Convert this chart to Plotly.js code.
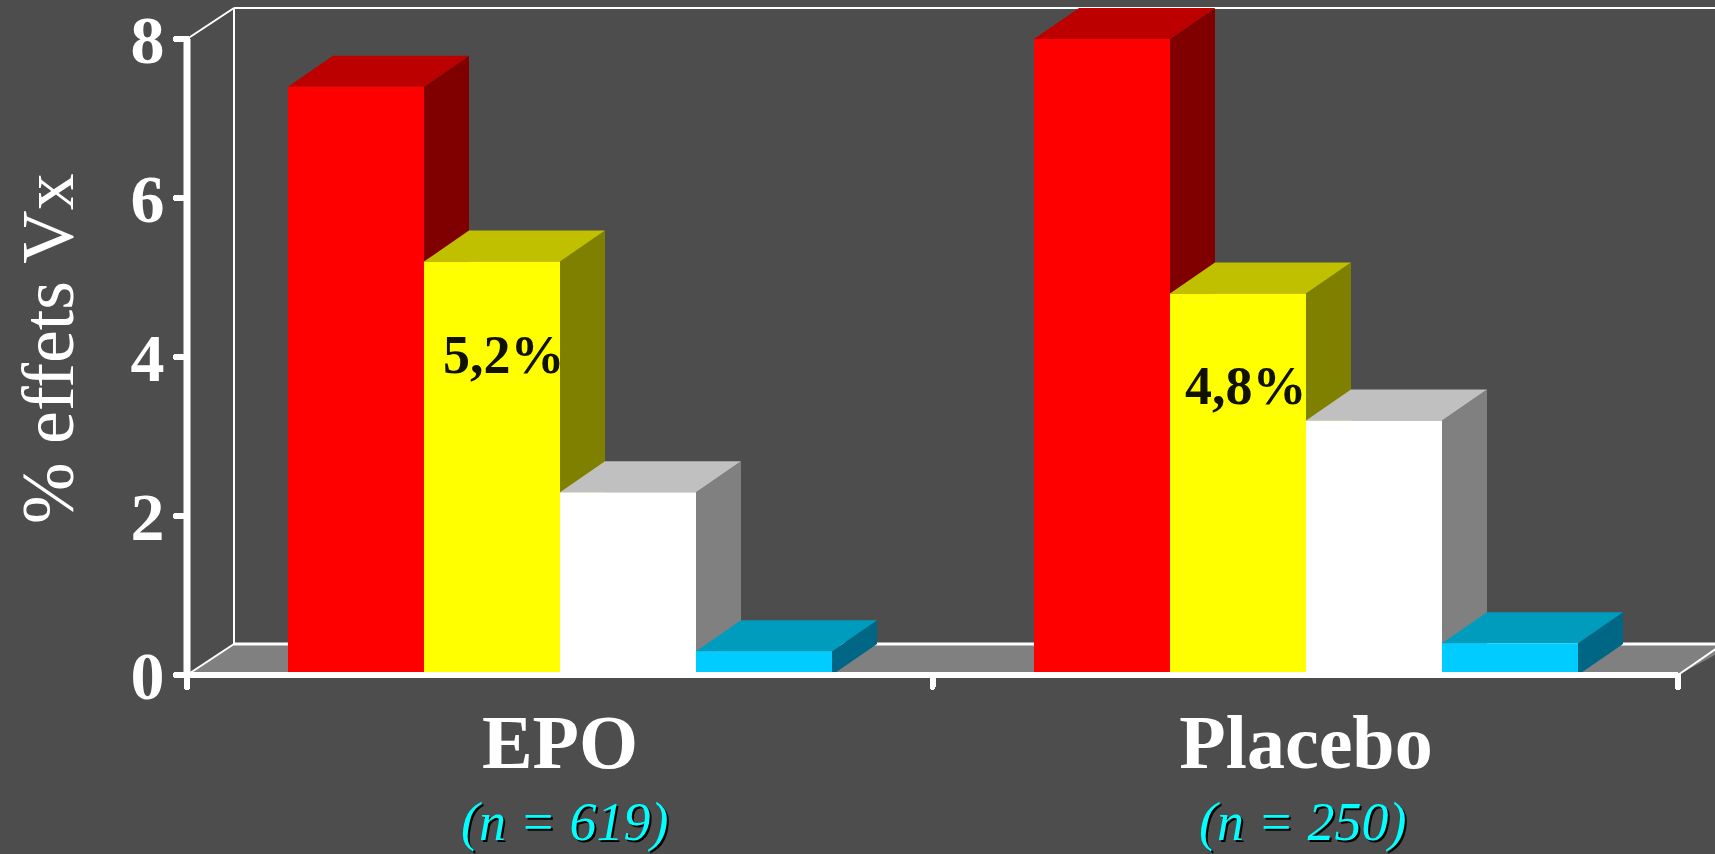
<!DOCTYPE html>
<html>
<head>
<meta charset="utf-8">
<script src="https://cdn.plot.ly/plotly-3.0.1.min.js"></script>
<style>
  html, body { margin: 0; padding: 0; background: #4d4d4d; overflow: hidden; }
  #chart { width: 1715px; height: 854px; }
  path.ticks { stroke-linecap: round; }
</style>
</head>
<body>
<div id="chart"></div>
<script>
// Adverse-effect rates per treatment arm, drawn as oblique 3D columns.
const groups = ['EPO', 'Placebo'];
const groupSizes = ['(n = 619)', '(n = 250)'];
const seriesRed = [7.4, 8.0];
const seriesYellow = [5.2, 4.8];
const seriesWhite = [2.3, 3.2];
const seriesBlue = [0.3, 0.4];
const yTicks = [0, 2, 4, 6, 8];
const yTitle = '% effets Vx';

// Axis scales: x runs in page-width units, y so that 0 and 8 fall on the axis ends.
const W = 1715, H = 854;
const Y_ZERO_PX = 675, Y_UNIT_PX = 79.5;
const Y_PAGE_BOTTOM = -(H - Y_ZERO_PX) / Y_UNIT_PX;
const X_AXIS_START = 187, X_AXIS_END = 1678;
const GROUP_CENTERS = [560, 1306];
const SIZE_LABEL_NUDGE = [4, -4];
const VALUE_LABEL_NUDGE = [12, 8];
const BAR_W = 136;
const DEPTH_X = 45, DEPTH_Y = 0.39;
const WALL_X = X_AXIS_START + 47;

const palettes = [
  { values: seriesRed,    name: 'Rouge', front: '#ff0000', top: '#bc0000', side: '#800000' },
  { values: seriesYellow, name: 'Jaune', front: '#ffff00', top: '#c0c000', side: '#808000' },
  { values: seriesWhite,  name: 'Blanc', front: '#ffffff', top: '#c0c0c0', side: '#808080' },
  { values: seriesBlue,   name: 'Bleu',  front: '#00ccff', top: '#009cbe', side: '#006685' }
];

const poly = (pts, fill) => ({
  type: 'path', xref: 'x', yref: 'y', layer: 'below',
  path: 'M' + pts.map(p => p[0] + ',' + p[1]).join(' L') + ' Z',
  fillcolor: fill, line: { width: 0 }
});
const seg = (x0, y0, x1, y1, width, layer) => ({
  type: 'line', xref: 'x', yref: 'y', layer: layer || 'below',
  x0, y0, x1, y1, line: { color: '#ffffff', width }
});

// Floor and back wall
const shapes = [
  poly([[X_AXIS_START, 0], [WALL_X, DEPTH_Y], [W + 20, DEPTH_Y], [X_AXIS_END, 0]], '#808080'),
  seg(WALL_X, DEPTH_Y, WALL_X, 8 + DEPTH_Y, 2),
  seg(WALL_X, 8 + DEPTH_Y, W, 8 + DEPTH_Y, 2),
  seg(X_AXIS_START, 8, WALL_X, 8 + DEPTH_Y, 2),
  seg(WALL_X, DEPTH_Y, W, DEPTH_Y, 3),
  seg(X_AXIS_START, 0, WALL_X, DEPTH_Y, 2),
  seg(X_AXIS_END, 0, X_AXIS_END + DEPTH_X, DEPTH_Y, 2)
];

// Side and top faces sit under the bar traces, in back-to-front order.
groups.forEach((g, gi) => {
  palettes.forEach((p, si) => {
    const v = p.values[gi];
    const left = GROUP_CENTERS[gi] + (si - 2) * BAR_W;
    const right = left + BAR_W;
    shapes.push(poly([[right, 0], [right + DEPTH_X, DEPTH_Y], [right + DEPTH_X, v + DEPTH_Y], [right, v]], p.side));
    shapes.push(poly([[left, v], [left + DEPTH_X, v + DEPTH_Y], [right + DEPTH_X, v + DEPTH_Y], [right, v]], p.top));
  });
});

// Main axis lines run over the columns.
shapes.push(seg(X_AXIS_START, 0, X_AXIS_END, 0, 6, 'above'));
shapes.push(seg(X_AXIS_START, 0, X_AXIS_START, 8, 7, 'above'));

const traces = palettes.map(p => ({
  type: 'bar',
  name: p.name,
  x: GROUP_CENTERS,
  y: p.values,
  marker: { color: p.front, line: { width: 0 } },
  hoverinfo: 'skip'
}));

const annotations = [{
  x: 48, xref: 'x', y: 4.1, yref: 'y',
  text: yTitle, showarrow: false, textangle: -90, xanchor: 'center', yanchor: 'middle',
  font: { family: 'Liberation Serif', size: 74, color: '#ffffff' }
}];
groupSizes.forEach((t, i) => annotations.push({
  x: GROUP_CENTERS[i] + SIZE_LABEL_NUDGE[i], xref: 'x', y: Y_PAGE_BOTTOM, yref: 'y',
  text: t, showarrow: false, xanchor: 'center', yanchor: 'bottom',
  font: { family: 'Liberation Serif', size: 54, color: '#00ffff', style: 'italic', shadow: '2px 2px 0 #000000' }
}));
seriesYellow.forEach((v, i) => annotations.push({
  x: GROUP_CENTERS[i] - BAR_W / 2 + VALUE_LABEL_NUDGE[i], xref: 'x',
  y: v - 1.17, yref: 'y',
  text: v.toFixed(1).replace('.', ',') + '%', showarrow: false, xanchor: 'center', yanchor: 'middle',
  font: { family: 'Liberation Serif', size: 54, color: '#111100', weight: 'bold' }
}));

const layout = {
  width: W, height: H,
  margin: { l: 0, r: 0, t: 0, b: 0 },
  paper_bgcolor: '#4d4d4d',
  plot_bgcolor: '#4d4d4d',
  barmode: 'group',
  bargap: 1 - 4 * BAR_W / (GROUP_CENTERS[1] - GROUP_CENTERS[0]),
  bargroupgap: 0,
  showlegend: false,
  hovermode: false,
  xaxis: {
    range: [0, W], domain: [0, 1],
    anchor: 'free', position: (H - Y_ZERO_PX) / H,
    side: 'bottom', showgrid: false, zeroline: false, showline: false,
    tickmode: 'array', tickvals: GROUP_CENTERS, ticktext: groups,
    ticks: '', ticklabelstandoff: 16,
    tickfont: { family: 'Liberation Serif', size: 76, color: '#ffffff', weight: 'bold' },
    minor: {
      tickmode: 'array',
      tickvals: [X_AXIS_START, (X_AXIS_START + X_AXIS_END) / 2, X_AXIS_END],
      ticks: 'outside', ticklen: 11, tickwidth: 6, tickcolor: '#ffffff', showgrid: false
    }
  },
  yaxis: {
    range: [Y_PAGE_BOTTOM, Y_ZERO_PX / Y_UNIT_PX], domain: [0, 1],
    anchor: 'free', position: X_AXIS_START / W,
    side: 'left', showgrid: false, zeroline: false, showline: false,
    tickmode: 'array', tickvals: yTicks,
    ticks: 'outside', ticklen: 11, tickwidth: 6, tickcolor: '#ffffff', ticklabelstandoff: -2,
    tickfont: { family: 'Liberation Serif', size: 68, color: '#ffffff', weight: 'bold' }
  },
  shapes,
  annotations
};

Plotly.newPlot('chart', traces, layout, { staticPlot: true, displayModeBar: false });
</script>
</body>
</html>
